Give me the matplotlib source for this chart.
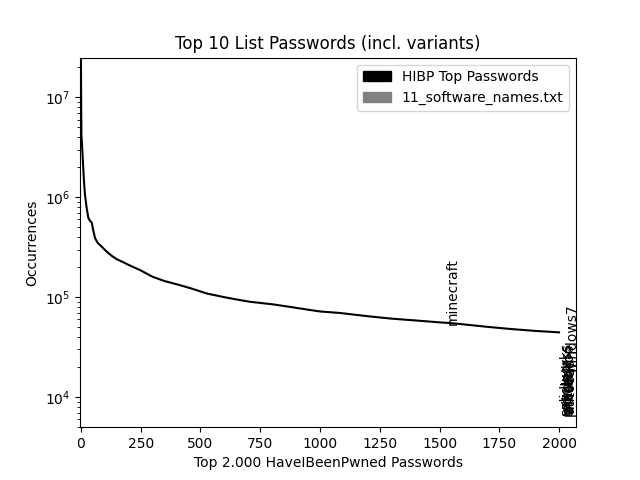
import matplotlib
matplotlib.use("Agg")
import matplotlib.pyplot as plt
import matplotlib.patches as mpatches

# HIBP top passwords curve (rank -> occurrences)
ranks = [0, 1, 2, 3, 5, 7, 10, 13, 17, 24, 31, 38, 45, 52, 59, 70, 87, 105, 128,
         150, 175, 200, 247, 300, 350, 414, 463, 526, 600, 650, 707, 800, 874,
         950, 1000, 1084, 1200, 1300, 1400, 1500, 1550, 1600, 1700, 1800, 1900, 2000]
occurrences = [2.35e7, 7.7e6, 4.2e6, 3.8e6, 3.2e6, 2.6e6, 1.9e6, 1.4e6, 1.05e6, 7.8e5,
               6.2e5, 5.8e5, 5.6e5, 4.6e5, 3.9e5, 3.5e5, 3.2e5, 2.9e5, 2.6e5,
               2.4e5, 2.25e5, 2.1e5, 1.87e5, 1.6e5, 1.45e5, 1.32e5, 1.22e5, 1.09e5,
               1.0e5, 9.5e4, 9.0e4, 8.5e4, 8.0e4, 7.5e4, 7.2e4, 6.95e4, 6.45e4,
               6.1e4, 5.85e4, 5.6e4, 5.5e4, 5.35e4, 5.05e4, 4.8e4, 4.6e4, 4.45e4]

# software-name passwords annotated (position rank, occurrences)
label_names = ["minecraft", "windows7", "solidworks", "mikrotik", "photoshop",
               "autocad", "wordpress", "office", "oracle"]
label_ranks = [1528, 2025, 2000, 2008, 2012, 2018, 2004, 2015, 2010]
label_counts = [5.6e4, 1.85e4, 7.0e3, 7.1e3, 7.0e3, 7.2e3, 7.1e3, 7.3e3, 7.2e3]

fig, ax = plt.subplots(figsize=(6.4, 4.8), dpi=100)
ax.plot(ranks, occurrences, color="black", linewidth=1.5)
ax.set_yscale("log")
ax.set_xlim(-4, 2071)
ax.set_ylim(5000, 2.5e7)

for name, r, c in zip(label_names, label_ranks, label_counts):
    ax.text(r, c, name, rotation=90)

ax.set_title("Top 10 List Passwords (incl. variants)")
ax.set_xlabel("Top 2.000 HaveIBeenPwned Passwords")
ax.set_ylabel("Occurrences")

handles = [mpatches.Patch(color="black", label="HIBP Top Passwords"),
           mpatches.Patch(color="grey", label="11_software_names.txt")]
ax.legend(handles=handles, loc="upper right")

fig.savefig("out.png")
